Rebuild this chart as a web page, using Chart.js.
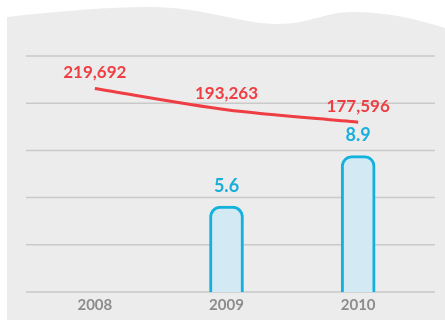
<!DOCTYPE html>
<html>
<head>
<meta charset="utf-8">
<script src="https://cdn.jsdelivr.net/npm/chart.js@4/dist/chart.umd.min.js"></script>
<style>
  html, body { margin: 0; padding: 0; background: #fff; }
  canvas { display: block; }
</style>
</head>
<body>
<canvas id="chart" width="445" height="320"></canvas>
<script>
// years on the x axis
const years = ["2008", "2009", "2010"];
// red line values
const lineValues = [219692, 193263, 177596];
// bar values (no bar for 2008)
const barValues = [null, 5.6, 8.9];

// grey panel with a wavy top edge, drawn behind everything
const panelPlugin = {
    id: 'panel',
    beforeDraw: function (chart) {
        const ctx = chart.ctx;
        ctx.save();
        ctx.fillStyle = '#ececec';
        ctx.beginPath();
        ctx.moveTo(7, 17);
        ctx.bezierCurveTo(60, 11, 110, 7, 150, 7);
        ctx.bezierCurveTo(205, 7, 240, 24, 277, 24);
        ctx.bezierCurveTo(310, 24, 325, 12, 352, 12);
        ctx.bezierCurveTo(390, 12, 420, 20, 445, 28);
        ctx.lineTo(445, 320);
        ctx.lineTo(7, 320);
        ctx.closePath();
        ctx.fill();
        ctx.restore();
    }
};

// horizontal rules running wider than the plot area
const rulesPlugin = {
    id: 'rules',
    beforeDatasetsDraw: function (chart) {
        const ctx = chart.ctx;
        const area = chart.chartArea;
        const rows = 5;
        ctx.save();
        ctx.strokeStyle = '#c9c9c9';
        ctx.lineWidth = 1.5;
        for (let i = 0; i <= rows; i++) {
            const y = area.top + (area.bottom - area.top) * i / rows;
            ctx.beginPath();
            ctx.moveTo(26, y);
            ctx.lineTo(435, y);
            ctx.stroke();
        }
        ctx.restore();
    }
};

// value labels above the bars and line points
const valueLabels = {
    id: 'valueLabels',
    afterDatasetsDraw: function (chart) {
        const ctx = chart.ctx;
        ctx.save();
        ctx.textAlign = 'center';
        ctx.textBaseline = 'middle';
        chart.data.datasets.forEach(function (ds, i) {
            const meta = chart.getDatasetMeta(i);
            meta.data.forEach(function (el, j) {
                const v = ds.data[j];
                if (v === null || v === undefined) return;
                if (ds.type === 'line') {
                    ctx.fillStyle = '#ee3e43';
                    ctx.font = 'bold 17px Lato';
                    ctx.fillText(v.toLocaleString('en-US'), el.x, el.y - 16);
                } else {
                    ctx.fillStyle = '#1aaedb';
                    ctx.font = 'bold 18px Lato';
                    ctx.fillText(v.toFixed(1), el.x, el.y - 20);
                }
            });
        });
        ctx.restore();
    }
};

new Chart(document.getElementById("chart"), {
    data: {
        labels: years,
        datasets: [
            {
                type: 'line',
                data: lineValues,
                yAxisID: 'yLine',
                borderColor: '#ee3e43',
                borderWidth: 3,
                pointRadius: 0,
                tension: 0.3,
                clip: false
            },
            {
                type: 'bar',
                data: barValues,
                yAxisID: 'yBar',
                backgroundColor: '#d3e9f4',
                borderColor: '#13b2de',
                borderWidth: 3,
                borderSkipped: 'bottom',
                borderRadius: { topLeft: 11, topRight: 11, bottomLeft: 0, bottomRight: 0 },
                barThickness: 34
            }
        ]
    },
    options: {
        responsive: false,
        animation: false,
        layout: {
            padding: { top: 56, left: 29, right: 21, bottom: 1 }
        },
        plugins: {
            legend: { display: false },
            tooltip: { enabled: false }
        },
        scales: {
            x: {
                grid: { display: false, drawTicks: false },
                border: { display: false },
                ticks: {
                    color: '#8c8c8c',
                    padding: 6,
                    font: { family: 'Lato', size: 15, weight: 'bold', lineHeight: 1 }
                }
            },
            yLine: {
                display: false,
                min: -34500,
                max: 260400
            },
            yBar: {
                display: false,
                min: 0,
                max: 15.4
            }
        }
    },
    plugins: [panelPlugin, rulesPlugin, valueLabels]
});
</script>
</body>
</html>
